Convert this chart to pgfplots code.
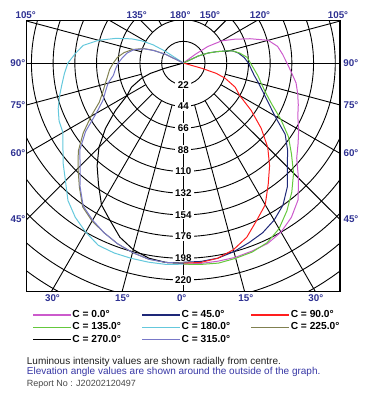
\documentclass[border=0pt]{standalone}
\usepackage{pgfplots}
\pgfplotsset{compat=1.18}
\usepackage{pgfplotstable}
\usepackage{fontspec}
\setmainfont{Liberation Sans}

\definecolor{cCzero}{RGB}{204,90,204}
\definecolor{cCfortyfive}{RGB}{30,40,120}
\definecolor{cCninety}{RGB}{255,30,30}
\definecolor{cConethirtyfive}{RGB}{100,200,60}
\definecolor{cConeeighty}{RGB}{100,200,220}
\definecolor{cCtwotwentyfive}{RGB}{128,128,80}
\definecolor{cCthreefifteen}{RGB}{120,120,200}
\definecolor{tickblue}{RGB}{46,49,146}
\definecolor{noteblue}{RGB}{55,55,165}

% angle a in degrees from nadir (0 = straight down), I in cd
\pgfplotstableread{
a I
0 204
5 204
10 204
15 204
20 203
25 202
30 198
35 191
40 181
45 165
50 150
55 142
60 135
65 128
70 124
75 120
80 116
85 110
90 105
95 101
100 97
105 89
110 72
115 57
120 45
124 30
126 15
127 0
}\tCzero

\pgfplotstableread{
a I
0 202
5 202
10 201
15 198
20 194
25 190
30 184
35 176
40 164
45 149
50 138
55 126
60 107
65 95
70 86
75 79
80 73
85 69
90 66
95 62
100 57
103.5 52
105 48
108.7 36
112 27
115 17
116 0
}\tCfortyfive

\pgfplotstableread{
a I
0 203
5 203
10 201
15 196
20 188
25 176
30 166
35 150
40 136
45 121
50 103
55 84
60 66
65 58
70 45
72.5 35
74 20
75 0
}\tCninety

\pgfplotstableread{
a I
0 204
5 205
10 206
15 205
20 204
25 201
30 194
35 183
40 171
45 158
50 143
55 130
60 114
65 99
70 89
75 82
80 77
85 72
90 68
95 65
100 58
103.5 52
105 48
108.7 36
112 27
115 17
116 0
}\tConethirtyfive

\pgfplotstableread{
a I
0 204
5 205
10 205
15 205
20 205
25 204
30 198
35 191
40 182
45 169
50 159
55 149
60 141
65 139
70 135
75 130
80 125
85 121
90 117
95 110
100 103
105 89
110 73
115 58
118 48
121 36
123 22
124 0
}\tConeeighty

\pgfplotstableread{
a I
0 203
5 203
10 202
15 199
20 195
25 190
30 185
35 178
40 164
45 151
50 139
55 124
60 108
65 94
70 87
75 82
80 78
85 75
90 71
95 67
100 61
105 53
110 43
113 33
116 20
118 0
}\tCtwotwentyfive

\pgfplotstableread{
a I
0 203
5 203
10 201
15 196
20 188
25 176
30 166
35 150
40 136
45 121
50 103
55 84
60 66
65 58
70 45
72.5 35
74 20
75 0
}\tCtwoseventy

\pgfplotstableread{
a I
0 203
5 203
10 202
15 199
20 195
25 190
30 184
35 177
40 163
45 148
50 137
55 121
60 102
65 90
70 84
75 79
80 72
85 69
90 66
95 62
100 58
105 52
110 42
113 32
116 20
118 0
}\tCthreefifteen

\newcommand{\lblfont}{\fontsize{9.8bp}{11bp}\selectfont\bfseries}

\begin{document}
\begin{tikzpicture}
\path[use as bounding box] (0,0) rectangle (366bp,-400bp);
\begin{axis}[
  at={(26.7bp,-20.7bp)}, anchor=north west,
  scale only axis, width=313.3bp, height=271bp,
  xmin=-158.8, xmax=158.8, ymin=-231.9, ymax=42.9,
  xtick=\empty, ytick=\empty,
  axis line style={line width=1.2bp, black},
  clip=true,
  legend columns=3,
  legend cell align=left,
  legend image code/.code={\draw[#1, line width=1.6bp] (0bp,0bp) -- (38bp,0bp);},
  legend style={at={(axis description cs:0.0179,-0.0672)}, anchor=north west,
    draw=none, fill=none, inner sep=0pt, outer sep=0pt, row sep=1.5bp,
    font=\fontsize{10.2bp}{12bp}\selectfont\bfseries,
    nodes={inner sep=0.5bp, text height=7.3bp, text depth=2.4bp},
    /tikz/every even column/.append style={column sep=20bp}},
]
% grid rings
\pgfplotsinvokeforeach{22,44,66,88,110,132,154,176,198,220,242,264}{
  \draw[line width=0.9bp] (axis cs:0,0) circle[radius=#1];
}
% radial lines from the second ring outwards
\pgfplotsinvokeforeach{15,30,45,60,75,105,120,135,150,165}{
  \draw[line width=0.9bp] (axis cs:{44*sin(#1)},{-44*cos(#1)}) -- (axis cs:{400*sin(#1)},{-400*cos(#1)});
  \draw[line width=0.9bp] (axis cs:{-44*sin(#1)},{-44*cos(#1)}) -- (axis cs:{-400*sin(#1)},{-400*cos(#1)});
}
\draw[line width=0.9bp] (axis cs:0,-300) -- (axis cs:0,100);
\draw[line width=0.9bp] (axis cs:-200,0) -- (axis cs:200,0);
% ring values
\pgfplotsinvokeforeach{22,44,66,88,110,132,154,176,198,220}{
  \node[fill=white, inner xsep=2.5bp, inner ysep=1.2bp, font=\lblfont] at (axis cs:0,-#1) {#1};
}

\addplot[cCzero, line width=1bp] table[x expr={\thisrow{I}*sin(\thisrow{a})}, y expr={-\thisrow{I}*cos(\thisrow{a})}] {\tCzero};
\addlegendentry{C = 0.0°}
\addplot[cCfortyfive, line width=1bp] table[x expr={\thisrow{I}*sin(\thisrow{a})}, y expr={-\thisrow{I}*cos(\thisrow{a})}] {\tCfortyfive};
\addlegendentry{C = 45.0°}
\addplot[cCninety, line width=1bp] table[x expr={\thisrow{I}*sin(\thisrow{a})}, y expr={-\thisrow{I}*cos(\thisrow{a})}] {\tCninety};
\addlegendentry{C = 90.0°}
\addplot[cConethirtyfive, line width=1bp] table[x expr={\thisrow{I}*sin(\thisrow{a})}, y expr={-\thisrow{I}*cos(\thisrow{a})}] {\tConethirtyfive};
\addlegendentry{C = 135.0°}
\addplot[cConeeighty, line width=1bp] table[x expr={-\thisrow{I}*sin(\thisrow{a})}, y expr={-\thisrow{I}*cos(\thisrow{a})}] {\tConeeighty};
\addlegendentry{C = 180.0°}
\addplot[cCtwotwentyfive, line width=1bp] table[x expr={-\thisrow{I}*sin(\thisrow{a})}, y expr={-\thisrow{I}*cos(\thisrow{a})}] {\tCtwotwentyfive};
\addlegendentry{C = 225.0°}
\addplot[black, line width=1bp] table[x expr={-\thisrow{I}*sin(\thisrow{a})}, y expr={-\thisrow{I}*cos(\thisrow{a})}] {\tCtwoseventy};
\addlegendentry{C = 270.0°}
\addplot[cCthreefifteen, line width=1bp] table[x expr={-\thisrow{I}*sin(\thisrow{a})}, y expr={-\thisrow{I}*cos(\thisrow{a})}] {\tCthreefifteen};
\addlegendentry{C = 315.0°}
\end{axis}

% elevation angle labels around the outside
\begin{scope}[every node/.style={font=\lblfont, text=tickblue, inner sep=0pt}]
\node at (25.7bp,-15bp) {105°};
\node at (136.7bp,-15bp) {135°};
\node at (180.3bp,-15bp) {180°};
\node at (210bp,-15bp) {150°};
\node at (260bp,-15bp) {120°};
\node at (338bp,-15bp) {105°};
\node at (17.8bp,-63bp) {90°};
\node at (18bp,-105bp) {75°};
\node at (18bp,-153bp) {60°};
\node at (18bp,-219.5bp) {45°};
\node at (350.8bp,-63bp) {90°};
\node at (351bp,-105bp) {75°};
\node at (351bp,-153bp) {60°};
\node at (351bp,-219.5bp) {45°};
\node at (52.5bp,-298.5bp) {30°};
\node at (122.5bp,-298.5bp) {15°};
\node at (181.7bp,-298.5bp) {0°};
\node at (245.8bp,-298.5bp) {15°};
\node at (315.8bp,-298.5bp) {30°};
\end{scope}

\node[anchor=base west, inner sep=0pt, font=\fontsize{10bp}{12bp}\selectfont, text={black!88}] at (26.7bp,-364.5bp) {Luminous intensity values are shown radially from centre.};
\node[anchor=base west, inner sep=0pt, font=\fontsize{10bp}{12bp}\selectfont, text=noteblue] at (26.7bp,-374.5bp) {Elevation angle values are shown around the outside of the graph.};
\node[anchor=base west, inner sep=0pt, font=\fontsize{9bp}{11bp}\selectfont, text={black!72}] at (26.7bp,-386.5bp) {Report No : J20202120497};
\end{tikzpicture}
\end{document}
